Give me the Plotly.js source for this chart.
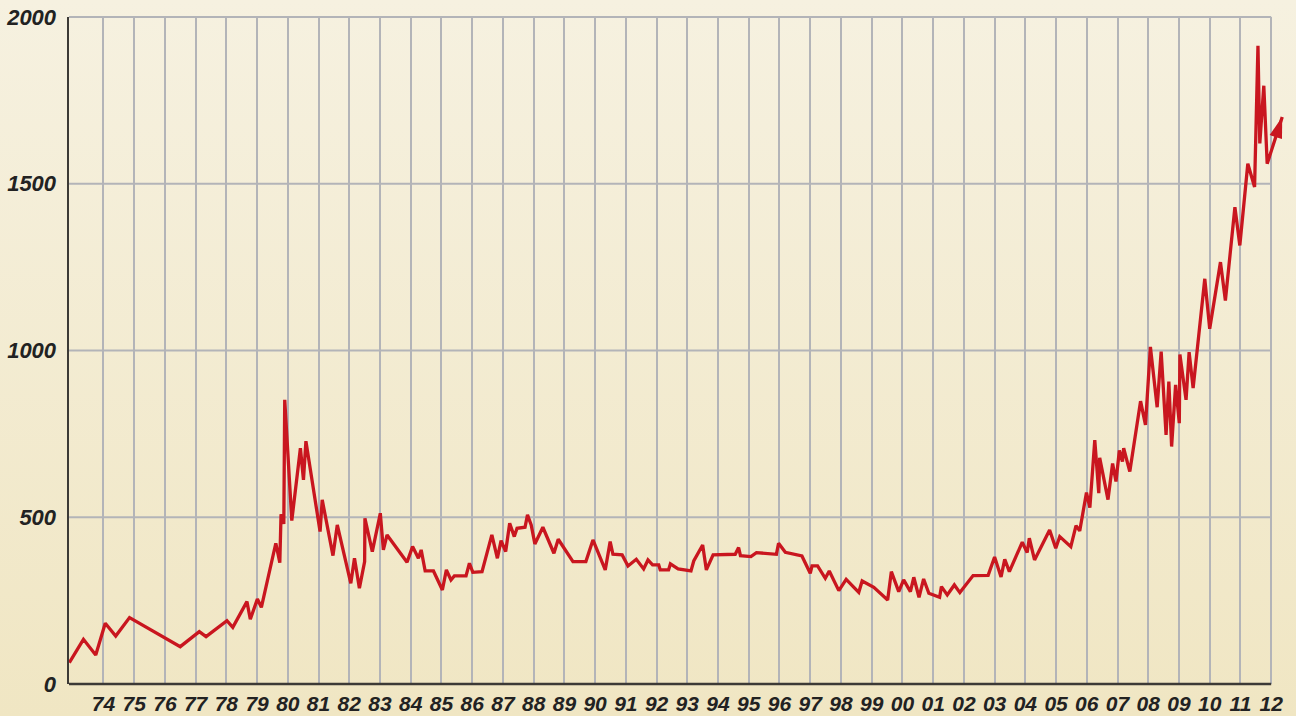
<!DOCTYPE html>
<html><head><meta charset="utf-8">
<script src="https://cdn.plot.ly/plotly-3.0.1.min.js"></script>
<style>
html,body{margin:0;padding:0;width:1296px;height:716px;overflow:hidden;
background:linear-gradient(to bottom,#f6f1e0 0%,#f0e6c3 100%);}
#chart{width:1296px;height:716px;}
</style></head><body><div id="chart"></div>
<script>
const years = [1972.89,1973.35,1973.75,1974.06,1974.40,1974.85,1976.50,1977.12,1977.34,1978.02,
1978.21,1978.67,1978.78,1979.01,1979.14,1979.61,1979.74,1979.78,1979.87,1979.90,
1980.13,1980.41,1980.51,1980.59,1981.05,1981.12,1981.47,1981.61,1982.05,1982.17,
1982.33,1982.50,1982.51,1982.75,1983.01,1983.11,1983.23,1983.88,1984.06,1984.25,
1984.34,1984.47,1984.74,1985.03,1985.16,1985.31,1985.42,1985.80,1985.91,1986.02,
1986.32,1986.64,1986.82,1986.94,1987.09,1987.22,1987.37,1987.46,1987.72,1987.80,
1987.92,1988.04,1988.30,1988.66,1988.80,1989.28,1989.70,1989.93,1990.33,1990.49,
1990.58,1990.88,1991.07,1991.34,1991.58,1991.72,1991.87,1992.07,1992.12,1992.39,
1992.45,1992.70,1993.12,1993.21,1993.50,1993.62,1993.84,1994.56,1994.67,1994.73,
1995.07,1995.25,1995.90,1995.97,1996.19,1996.73,1997.00,1997.06,1997.24,1997.49,
1997.62,1997.93,1998.17,1998.58,1998.69,1999.07,1999.52,1999.64,1999.88,2000.04,
2000.26,2000.37,2000.54,2000.69,2000.86,2001.21,2001.27,2001.46,2001.69,2001.87,
2002.30,2002.79,2003.00,2003.21,2003.33,2003.48,2003.90,2004.06,2004.13,2004.30,
2004.79,2004.99,2005.12,2005.48,2005.65,2005.77,2005.99,2006.10,2006.26,2006.39,
2006.42,2006.69,2006.84,2006.95,2007.06,2007.16,2007.20,2007.40,2007.75,2007.91,
2008.07,2008.29,2008.42,2008.58,2008.67,2008.76,2008.89,2009.01,2009.03,2009.23,
2009.33,2009.46,2009.84,2010.00,2010.35,2010.51,2010.82,2010.98,2011.24,2011.46,
2011.57,2011.63,2011.76,2011.87,2012.36];
const prices = [64,134,87,182,144,199,112,157,142,190,
170,247,194,255,230,422,364,509,480,852,
490,707,612,728,457,552,385,477,302,377,
287,367,497,397,512,402,447,365,412,377,
402,339,339,282,342,312,324,324,362,335,
337,447,377,430,397,482,442,467,470,507,
477,420,470,392,434,367,367,432,342,427,
389,387,354,374,345,372,357,357,342,342,
360,345,339,369,417,342,387,389,409,385,
382,394,389,422,395,384,332,354,354,317,
339,280,314,275,309,290,252,337,277,312,
277,320,260,315,272,260,292,267,297,274,
325,326,381,321,374,337,425,394,437,372,
462,407,442,412,475,459,574,529,731,572,
678,553,661,607,700,667,707,637,848,777,
1011,830,997,747,907,712,897,782,988,852,
995,887,1215,1065,1265,1150,1430,1315,1560,1490,
1914,1621,1794,1560,1700];

const tickYears = [1974,1975,1976,1977,1978,1979,1980,1981,1982,1983,1984,1985,1986,1987,1988,1989,1990,1991,1992,1993,
1994,1995,1996,1997,1998,1999,2000,2001,2002,2003,2004,2005,2006,2007,2008,2009,2010,2011,2012];
const tickLabels = ['74','75','76','77','78','79','80','81','82','83','84','85','86','87','88','89','90','91','92','93',
'94','95','96','97','98','99','00','01','02','03','04','05','06','07','08','09','10','11','12'];
const yTicks = [0,500,1000,1500,2000];
const yLabels = ['0','500','1000','1500','2000'];
const hGrid = [500,1000,1500,2000];

const xRange = [1972.88, 2012.45];
const yRange = [0, 2000];
const gridEnd = 2012;
const gridEndFrac = (gridEnd - xRange[0]) / (xRange[1] - xRange[0]);

const W = 1296, H = 716;
const margin = {l:69, r:11, t:17, b:32};
const lineColor = '#c9161f';
const labelFont = {family:'"Liberation Sans", Arial, sans-serif', size:21, color:'#222222', weight:'bold', style:'italic'};

const shapes = hGrid.map(v => ({
  type:'line', xref:'paper', yref:'paper', x0:0, x1:gridEndFrac,
  y0:(v - yRange[0])/(yRange[1]-yRange[0]), y1:(v - yRange[0])/(yRange[1]-yRange[0]),
  line:{color:'#b3b4b8', width:2}, layer:'below'
}));
shapes.push({type:'line', xref:'paper', yref:'paper', x0:0, x1:gridEndFrac, y0:0, y1:0,
  line:{color:'#3c3a36', width:2.5}, layer:'above'});

// arrowhead at the last data point, oriented along the final segment
const n = prices.length;
const kx = (W - margin.l - margin.r) / (xRange[1] - xRange[0]);
const ky = (H - margin.t - margin.b) / (yRange[1] - yRange[0]);
const headLen = 21, headHalf = 6.5;
(function(){
  const tx = years[n-1]*kx, ty = prices[n-1]*ky;
  const px = years[n-2]*kx, py = prices[n-2]*ky;
  let dx = tx - px, dy = ty - py; const L = Math.hypot(dx, dy); dx /= L; dy /= L;
  const bx = tx - dx*headLen, by = ty - dy*headLen;
  const c1x = bx - dy*headHalf, c1y = by + dx*headHalf;
  const c2x = bx + dy*headHalf, c2y = by - dx*headHalf;
  const f = (a, b) => (a/kx) + ',' + (b/ky);
  shapes.push({type:'path', xref:'x', yref:'y', layer:'above',
    path:'M' + f(tx,ty) + ' L' + f(c1x,c1y) + ' L' + f(c2x,c2y) + ' Z',
    fillcolor:lineColor, line:{width:0}});
})();

const trace = {
  x: years, y: prices, type:'scatter', mode:'lines',
  line:{color:lineColor, width:3.3, backoff: prices.map((_, i) => i === n - 1 ? headLen - 4 : 0)},
  hoverinfo:'skip', showlegend:false
};

const layout = {
  width:W, height:H, margin:margin,
  paper_bgcolor:'rgba(0,0,0,0)', plot_bgcolor:'rgba(0,0,0,0)',
  showlegend:false,
  xaxis:{range:xRange, tickmode:'array', tickvals:tickYears, ticktext:tickLabels,
    showgrid:true, gridcolor:'#b3b4b8', gridwidth:2, zeroline:false, showline:false,
    ticks:'', tickfont:Object.assign({}, labelFont, {size:21}), ticklabelstandoff:5, fixedrange:true},
  yaxis:{range:yRange, tickmode:'array', tickvals:yTicks, ticktext:yLabels,
    showgrid:false, zeroline:false, showline:true, linecolor:'#3c3a36', linewidth:2.5,
    ticks:'', tickfont:Object.assign({}, labelFont, {size:22}), ticklabelstandoff:6, fixedrange:true},
  shapes: shapes
};

Plotly.newPlot('chart', [trace], layout, {displayModeBar:false, staticPlot:true});
</script>
</body></html>
